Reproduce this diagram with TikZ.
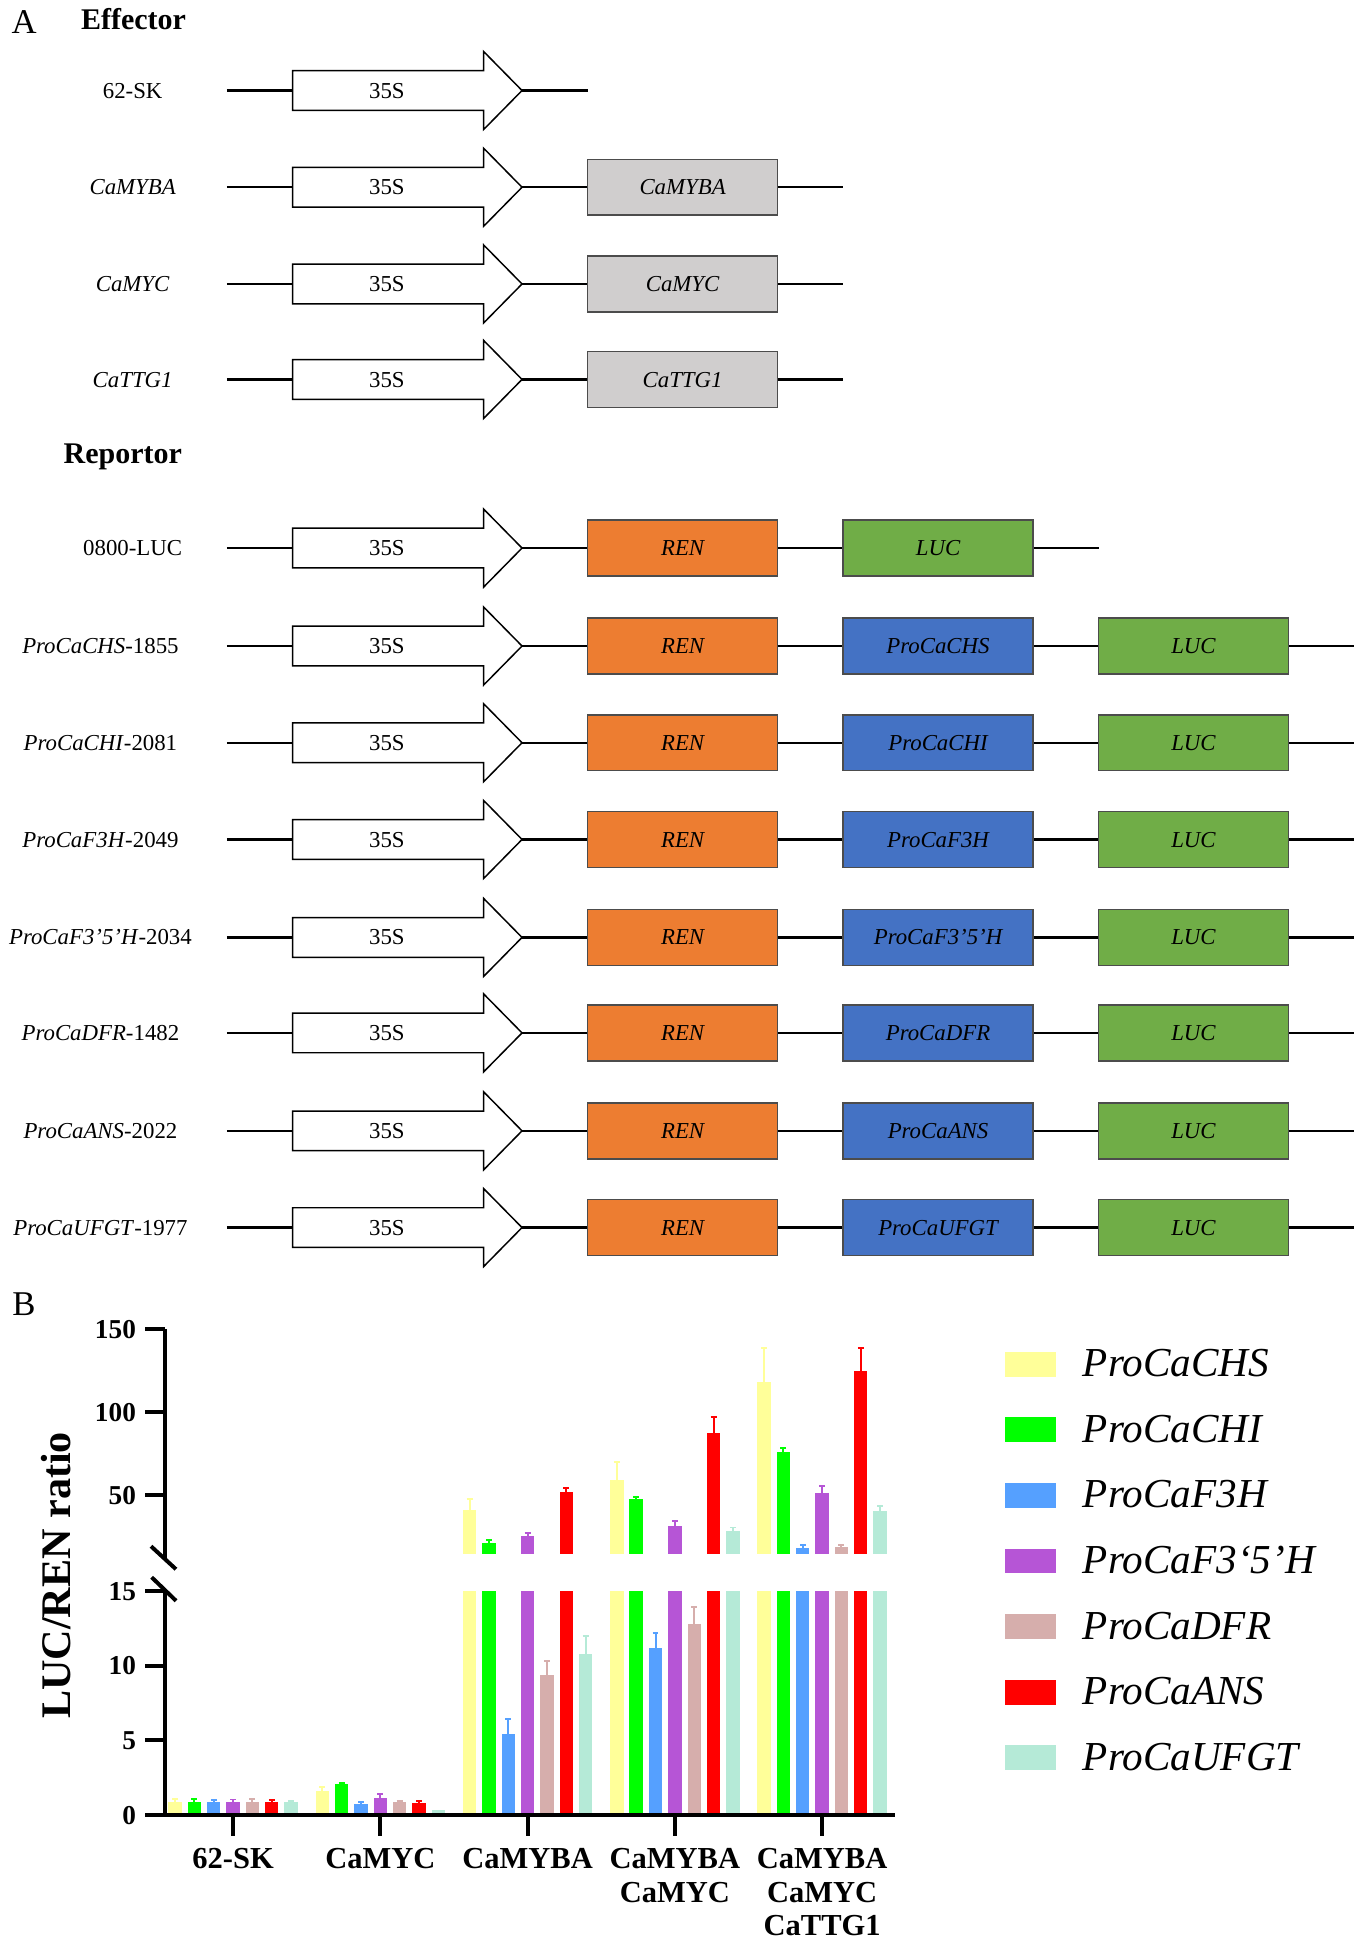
\documentclass[tikz,border=0pt]{standalone}
\usepackage{fontspec}
\setmainfont{Liberation Serif}
\definecolor{boxgray}{HTML}{D0CECE}
\definecolor{renor}{HTML}{ED7D31}
\definecolor{problue}{HTML}{4472C4}
\definecolor{lucgreen}{HTML}{70AD47}
\definecolor{c0}{HTML}{FFFF99}
\definecolor{c1}{HTML}{00FF00}
\definecolor{c2}{HTML}{55A0FF}
\definecolor{c3}{HTML}{B655D6}
\definecolor{c4}{HTML}{D6AEAC}
\definecolor{c5}{HTML}{FF0000}
\definecolor{c6}{HTML}{B5EAD7}
\tikzset{
  bb/.style={line width=1pt},
  parrow/.style={draw=black, line width=0.6pt, fill=white},
  lab/.style={font=\fontsize{9.2}{11}\selectfont, inner sep=0pt, anchor=base},
  ptext/.style={font=\fontsize{9.2}{11}\selectfont, inner sep=0pt, text height=6.1pt, text depth=0pt},
  gbox/.style={draw=black!70, line width=0.6pt, minimum width=76.5pt, minimum height=22.5pt, inner sep=0pt, text height=6.1pt, text depth=0pt, font=\fontsize{9.2}{11}\selectfont\itshape},
  graybox/.style={gbox, fill=boxgray},
  renbox/.style={gbox, fill=renor},
  probox/.style={gbox, fill=problue},
  lucbox/.style={gbox, fill=lucgreen},
  headtext/.style={font=\fontsize{12.1}{14}\selectfont\bfseries, inner sep=0pt, anchor=base west},
  paneltext/.style={font=\fontsize{14}{16}\selectfont, inner sep=0pt, anchor=base west},
  axisline/.style={line width=1.6pt},
  ticklab/.style={font=\fontsize{11}{13}\selectfont\bfseries, inner sep=0pt, anchor=base east},
  grouplab/.style={font=\fontsize{12.3}{13.5}\selectfont\bfseries, inner sep=0pt, anchor=north, align=center},
  legtext/.style={font=\fontsize{16.6}{19}\selectfont\itshape, inner sep=0pt, anchor=base west},
  errbar/.style={line width=0.8pt}
}
\newcommand\promrow[2]{%
  \coordinate (#1s) at (183,#2);
  \coordinate (#1t) at (236,#2);
  \coordinate (#1p) at (421,#2);
  \draw[bb] (#1s) -- (#1t);
  \draw[parrow] (236,#2-16) -- (390,#2-16) -- (390,#2-31.5) -- (421,#2) -- (390,#2+31.5) -- (390,#2+16) -- (236,#2+16) -- cycle;
  \node[ptext] (#1x) at (312,#2) {35S};
}
\def\dA{0.85/1.08,0.85/1.08,0.85/1.0,0.85/1.02,0.85/1.06,0.85/1.0,0.83/0.95}
\def\dB{1.62/1.85,2.03/2.12,0.73/0.84,1.13/1.36,0.86/0.95,0.78/0.89,0.31/0.31}
\def\dC{41/48,21.5/23.2,5.4/6.4,25.3/27.5,9.37/10.3,52/54.5,10.77/11.96}
\def\dD{59/70,47.7/49.3,11.17/12.2,31.7/34.8,12.8/13.9,87.7/97.3,28.8/30.7}
\def\dE{118.4/139,76.2/78.7,18.5/20.2,51.2/55.8,18.9/20.3,125.1/139,40.8/43.8}
\begin{document}
\begin{tikzpicture}[x=0.5pt,y=-0.5pt]
\useasboundingbox (0,0) rectangle (1100,1570.2);
% ---------------- Panel A
\node[paneltext] (pA) at (9,27) {A};
\node[headtext] (hE) at (65,23.5) {Effector};
\node[headtext] (hR) at (51,374) {Reportor};
% effector rows
\promrow{e1}{73}
\node[lab] (el1) at (107,79.1) {62-SK};
\coordinate (e1e) at (474,73);
\draw[bb] (e1p) -- (e1e);
\foreach \n/\y/\g in {2/151/CaMYBA,3/229/CaMYC,4/306/CaTTG1}{
  \promrow{e\n}{\y}
  \node[lab] (el\n) at (107,\y+6.1) {\textit{\g}};
  \node[graybox] (eb\n) at (550.5,\y) {\g};
  \coordinate (ee\n) at (680,\y);
  \draw[bb] (e\n p) -- (eb\n) (eb\n) -- (ee\n);
}
% reporter rows
\promrow{r0}{442}
\node[lab] (rl0) at (107,448.1) {0800-LUC};
\node[renbox] (ra0) at (550.5,442) {REN};
\node[lucbox] (rb0) at (756.5,442) {LUC};
\coordinate (re0) at (886,442);
\draw[bb] (r0p) -- (ra0) (ra0) -- (rb0) (rb0) -- (re0);
\foreach \n/\y/\g/\num in {1/521/ProCaCHS/1855,2/599/ProCaCHI/2081,3/677/ProCaF3H/2049,4/756/ProCaF3’5’H/2034,5/833/ProCaDFR/1482,6/912/ProCaANS/2022,7/990/ProCaUFGT/1977}{
  \promrow{r\n}{\y}
  \node[lab] (rl\n) at (81,\y+6.1) {\textit{\g}-\num};
  \node[renbox] (ra\n) at (550.5,\y) {REN};
  \node[probox] (rb\n) at (756.5,\y) {\g};
  \node[lucbox] (rc\n) at (962.5,\y) {LUC};
  \coordinate (re\n) at (1092,\y);
  \draw[bb] (r\n p) -- (ra\n) (ra\n) -- (rb\n) (rb\n) -- (rc\n) (rc\n) -- (re\n);
}
% ---------------- Panel B
\node[paneltext] (pB) at (9.5,1061.3) {B};
% bars
\foreach \g in {0,1,2,3,4}{
  \ifcase\g \let\dat\dA \or \let\dat\dB \or \let\dat\dC \or \let\dat\dD \else \let\dat\dE \fi
  \foreach \v/\e [count=\j from 0] in \dat {
    \pgfmathsetmacro\bx{188+118.75*\g+(\j-3)*15.6}
    \pgfmathsetmacro\xl{\bx-5.4}
    \pgfmathsetmacro\xr{\bx+5.4}
    \pgfmathtruncatemacro\isup{\v>15 ? 1 : 0}
    \pgfmathsetmacro\ylow{1463.5-12.03*min(\v,15)}
    \fill[c\j] (\xl,1463.5) rectangle (\xr,\ylow);
    \ifnum\isup=1
      \pgfmathsetmacro\yt{1206-1.34*(\v-50)}
      \pgfmathsetmacro\ye{1206-1.34*(\e-50)}
      \fill[c\j] (\xl,1253) rectangle (\xr,\yt);
    \else
      \pgfmathsetmacro\yt{\ylow}
      \pgfmathsetmacro\ye{1463.5-12.03*\e}
    \fi
    \pgfmathtruncatemacro\haserr{\e>\v ? 1 : 0}
    \ifnum\haserr=1
      \draw[errbar, c\j] (\bx,\yt) -- (\bx,\ye) (\bx-2.4,\ye) -- (\bx+2.4,\ye);
    \fi
  }
}
% axes
\draw[axisline] (133,1072) -- (133,1257);
\draw[axisline] (133,1282) -- (133,1463.5) -- (722,1463.5);
\draw[axisline] (121.8,1247) -- (141.9,1265.5);
\draw[axisline] (122.3,1272) -- (142,1291);
\foreach \t/\ty in {150/1072,100/1139,50/1206,15/1283,10/1343.2,5/1403.4,0/1463.5}{
  \draw[axisline] (117,\ty) -- (133,\ty);
  \node[ticklab] (yt\t) at (110,\ty+7.5) {\t};
}
\foreach \g/\txt in {0/62-SK,1/CaMYC,2/CaMYBA,3/{CaMYBA\\CaMYC},4/{CaMYBA\\CaMYC\\CaTTG1}}{
  \draw[axisline] (188+118.75*\g,1463.5) -- (188+118.75*\g,1481);
  \node[grouplab] (gl\g) at (188+118.75*\g,1490.5) {\txt};
}
\node[font=\fontsize{17}{20}\selectfont\bfseries, rotate=90, anchor=base, inner sep=0pt] (ylab) at (57,1270.5) {LUC/REN ratio};
% legend
\foreach \k/\nm in {0/ProCaCHS,1/ProCaCHI,2/ProCaF3H,3/ProCaF3‘5’H,4/ProCaDFR,5/ProCaANS,6/ProCaUFGT}{
  \fill[c\k] (810.5,1110.2+52.9*\k-20) rectangle (852,1110.2+52.9*\k);
  \node[legtext] (lg\k) at (873,1110.2+52.9*\k) {\nm};
}
\end{tikzpicture}
\end{document}
